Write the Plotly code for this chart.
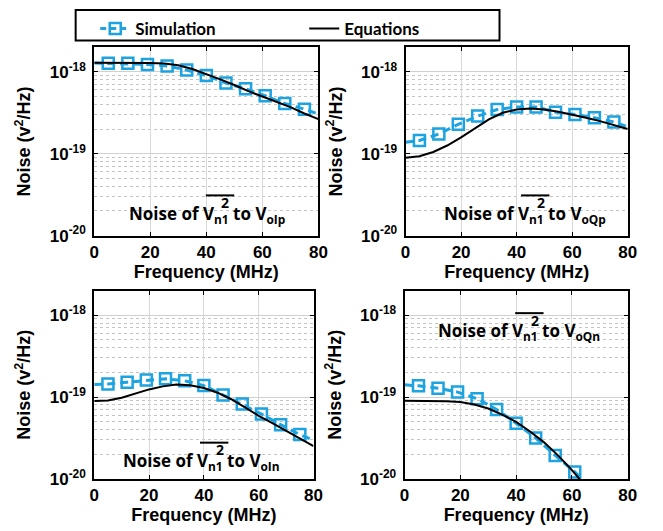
import plotly.graph_objects as go

W, H = 663, 531

# ---------------- data ----------------
sim_freq = [0, 5, 12, 19, 26, 33, 40, 47, 54, 61, 68, 75, 80]      # dashed line points (markers at interior ones)
eq_freq = [0, 5, 10, 15, 20, 25, 30, 35, 40, 45, 50, 55, 60, 65, 70, 75, 80]

sim_olp = [1.28e-18, 1.27e-18, 1.27e-18, 1.23e-18, 1.18e-18, 1.05e-18, 0.90e-18, 0.73e-18,
           0.62e-18, 0.51e-18, 0.41e-18, 0.35e-18, 0.305e-18]
eq_olp = [1.29e-18, 1.29e-18, 1.29e-18, 1.29e-18, 1.28e-18, 1.26e-18, 1.20e-18, 1.08e-18, 0.94e-18,
          0.81e-18, 0.69e-18, 0.58e-18, 0.50e-18, 0.43e-18, 0.37e-18, 0.31e-18, 0.265e-18]

sim_oqp = [1.38e-19, 1.45e-19, 1.74e-19, 2.29e-19, 2.88e-19, 3.47e-19, 3.73e-19, 3.73e-19,
           3.22e-19, 3.02e-19, 2.75e-19, 2.44e-19, 2.13e-19]
eq_oqp = [0.895e-19, 0.93e-19, 1.05e-19, 1.26e-19, 1.58e-19, 2.05e-19, 2.63e-19, 3.16e-19, 3.47e-19,
          3.57e-19, 3.47e-19, 3.25e-19, 3.02e-19, 2.75e-19, 2.50e-19, 2.25e-19, 2.00e-19]

sim_oln = [1.42e-19, 1.44e-19, 1.52e-19, 1.61e-19, 1.67e-19, 1.58e-19, 1.38e-19, 1.06e-19,
           0.82e-19, 0.62e-19, 0.46e-19, 0.348e-19, 0.298e-19]
eq_oln = [0.895e-19, 0.91e-19, 0.98e-19, 1.10e-19, 1.24e-19, 1.35e-19, 1.42e-19, 1.39e-19, 1.29e-19,
          1.13e-19, 0.94e-19, 0.75e-19, 0.59e-19, 0.48e-19, 0.39e-19, 0.31e-19, 0.252e-19]

sim_freq_oqn = [0, 5, 12, 19, 26, 33, 40, 47, 54, 61, 68]
sim_oqn = [1.41e-19, 1.37e-19, 1.28e-19, 1.15e-19, 0.955e-19, 0.705e-19, 0.479e-19, 0.316e-19,
           0.194e-19, 0.122e-19, 0.072e-19]
eq_freq_oqn = [0, 5, 10, 15, 20, 25, 30, 35, 40, 45, 50, 55, 60, 65]
eq_oqn = [0.90e-19, 0.90e-19, 0.895e-19, 0.89e-19, 0.87e-19, 0.81e-19, 0.725e-19, 0.61e-19,
          0.497e-19, 0.38e-19, 0.28e-19, 0.194e-19, 0.128e-19, 0.081e-19]

x_ticks = [0, 20, 40, 60, 80]
y_ticks = [1e-20, 1e-19, 1e-18]
y_ticktext = ["10<sup>-20</sup>", "10<sup>-19</sup>", "10<sup>-18</sup>"]
out_subs = ["oIp", "oQp", "oIn", "oQn"]

# ---------------- style ----------------
BLUE = "#1ca3e0"
ARIAL = "Liberation Sans, Arial, sans-serif"
TICKFONT = dict(family=ARIAL, size=17, color="black", weight="bold")
TITLEFONT = dict(family=ARIAL, size=18, color="black", weight="bold")
LEGFONT = "Lato, Carlito, Calibri, sans-serif"
LABFONT = "Open Sans, sans-serif"

def px2x(p): return p / W
def py2y(p): return 1 - p / H

# domains (pixels)
panels = [
    dict(x0=83, x1=312, y0=40, y1=232),
    dict(x0=401, x1=628, y0=40, y1=232),
    dict(x0=83, x1=307, y0=288, y1=480),
    dict(x0=400, x1=628, y0=288, y1=480),
]
sims = [(sim_freq, sim_olp), (sim_freq, sim_oqp), (sim_freq, sim_oln), (sim_freq_oqn, sim_oqn)]
eqs = [(eq_freq, eq_olp), (eq_freq, eq_oqp), (eq_freq, eq_oln), (eq_freq_oqn, eq_oqn)]
label_pos = [(126, 215), (448, 215), (120, 467), (442, 335)]

minor_vals = [k * 10.0 ** e for e in (-20, -19, -18) for k in range(2, 10)]

fig = go.Figure()
layout = dict(
    width=W, height=H, margin=dict(l=0, r=0, t=0, b=0),
    paper_bgcolor="white", plot_bgcolor="white",
    showlegend=True,
    legend=dict(orientation="h", x=px2x(84), y=py2y(3), xanchor="left", yanchor="top",
                bgcolor="rgba(0,0,0,0)", borderwidth=0,
                font=dict(family=LEGFONT, size=17, color="black", weight="bold"),
                entrywidth=164, entrywidthmode="pixels"),
)
annotations = []
shapes = []

for i, p in enumerate(panels):
    n = "" if i == 0 else str(i + 1)
    xa, ya = "x" + n, "y" + n
    layout["xaxis" + n] = dict(
        domain=[px2x(p["x0"]), px2x(p["x1"])], anchor=ya, range=[0, 80],
        tickmode="array", tickvals=x_ticks, tickfont=TICKFONT,
        showgrid=True, gridcolor="#d9d9d9", gridwidth=1, zeroline=False,
        showline=True, linecolor="black", linewidth=2, mirror="ticks",
        ticks="inside", ticklen=4, tickcolor="black",
        title=dict(text="Frequency (MHz)", font=TITLEFONT, standoff=3),
    )
    layout["yaxis" + n] = dict(
        domain=[py2y(p["y1"]), py2y(p["y0"])], anchor=xa, type="log", range=[-20, -17.7],
        tickmode="array", tickvals=y_ticks, ticktext=y_ticktext, tickfont=TICKFONT,
        ticklabelstandoff=3,
        showgrid=True, gridcolor="#d0d0d0", gridwidth=1, zeroline=False,
        showline=True, linecolor="black", linewidth=2, mirror="ticks",
        ticks="inside", ticklen=4, tickcolor="black",
        minor=dict(tickmode="array", tickvals=minor_vals, showgrid=True, griddash="dot",
                   gridcolor="#c4c4c4", gridwidth=1, ticks=""),
        title=dict(text="Noise (v<sup>2</sup>/Hz)", font=TITLEFONT, standoff=14),
    )

    sx, sy = sims[i]
    ex, ey = eqs[i]
    # dashed simulation line
    fig.add_trace(go.Scatter(x=sx, y=sy, xaxis=xa, yaxis=ya, mode="lines",
                             line=dict(color=BLUE, width=3, dash="8px,5px"), showlegend=False,
                             hoverinfo="skip"))
    # simulation markers (interior points)
    fig.add_trace(go.Scatter(x=sx[1:-1], y=sy[1:-1], xaxis=xa, yaxis=ya, mode="markers",
                             marker=dict(symbol="square-open", size=11, color=BLUE,
                                         line=dict(width=2.5, color=BLUE)),
                             showlegend=False))
    # equations
    fig.add_trace(go.Scatter(x=ex, y=ey, xaxis=xa, yaxis=ya, mode="lines",
                             line=dict(color="black", width=2), showlegend=False))

    # panel label: "Noise of V̄²n1 to V_sub"
    L, B = label_pos[i]
    big = dict(family=LABFONT, size=17, color="black", weight="bold")
    annotations += [
        dict(text="Noise of V<sub>n1</sub> to V<sub>" + out_subs[i] + "</sub>",
             x=px2x(L - 8), y=py2y(B - 5), xanchor="left", yanchor="middle", align="left",
             xref="paper", yref="paper", showarrow=False, font=big, borderpad=0, borderwidth=0),
        dict(text="2", x=px2x(L + 91), y=py2y(B - 17), xanchor="center", yanchor="middle",
             xref="paper", yref="paper", showarrow=False,
             font=dict(family=LABFONT, size=14, color="black", weight="bold"),
             borderpad=0, borderwidth=0),
    ]
    shapes.append(dict(type="line", xref="paper", yref="paper",
                       x0=px2x(L + 71), x1=px2x(L + 100), y0=py2y(B - 24), y1=py2y(B - 24),
                       line=dict(color="black", width=2)))

# legend-only traces
fig.add_trace(go.Scatter(x=[None], y=[None], mode="lines+markers", name="Simulation",
                         line=dict(color=BLUE, width=3, dash="6px,4px"),
                         marker=dict(symbol="square-open", size=11, color=BLUE,
                                     line=dict(width=2.5, color=BLUE))))
fig.add_trace(go.Scatter(x=[None], y=[None], mode="lines", name="Equations",
                         line=dict(color="black", width=2)))

# legend frame
shapes.append(dict(type="rect", xref="paper", yref="paper",
                   x0=px2x(64), x1=px2x(497), y0=py2y(33), y1=py2y(2),
                   line=dict(color="black", width=2), fillcolor="rgba(0,0,0,0)"))

layout["annotations"] = annotations
layout["shapes"] = shapes
fig.update_layout(**layout)
fig.write_html("out.html")
